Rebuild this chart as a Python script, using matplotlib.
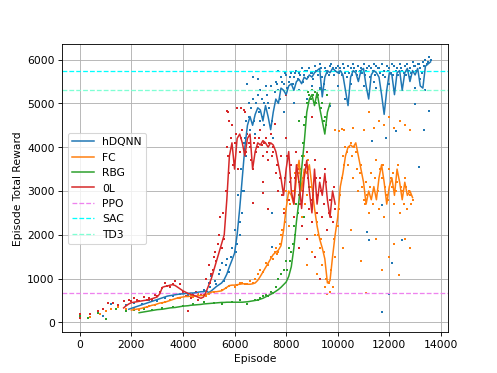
import numpy as np
import matplotlib
matplotlib.use("Agg")
import matplotlib.pyplot as plt

# ---------------- data ----------------
series_names = ["hDQNN", "FC", "RBG", "0L"]
series_colors = ["tab:blue", "tab:orange", "tab:green", "tab:red"]

step = 100
hdqnn_line_start = 1900
hdqnn_line = [300, 320, 340, 360, 380, 400, 420, 440, 460, 480, 500, 520, 540, 560, 580, 600,
              610, 620, 630, 640, 650, 650, 660, 660, 670, 670, 680, 690, 700, 700, 720,
              680, 720, 770, 820, 860, 900, 980, 1100, 1270, 1420, 1580, 2000, 2600, 3300, 4000,
              4500, 4700, 4500, 4750, 4900, 4850, 4600, 4950, 4700, 4400, 4800, 5100, 5000, 5350,
              5300, 5200, 5400, 5450, 5300, 5500, 5550, 5450, 5600, 5550, 5650, 5600, 5700, 5750,
              5800, 5150, 5600, 5750, 5700, 5800, 5750, 5700, 5750, 5650, 5300, 4950, 5600, 5750,
              5700, 5500, 5750, 5800, 5400, 5100, 5650, 5750, 5700, 5600, 5200, 4750, 5300, 5700,
              5650, 5200, 5700, 5750, 5300, 5700, 5800, 5500, 5750, 5650, 5800, 5400, 5350, 5850,
              5900, 5950]

fc_line_start = 2000
fc_line = [280, 290, 300, 310, 320, 340, 350, 370, 390, 400, 420, 440, 450, 460, 480, 500,
           520, 540, 560, 570, 580, 590, 590, 600, 600, 600, 610, 610, 620, 640, 660, 690, 700,
           700, 710, 720, 760, 800, 840, 850, 850, 860, 870, 880, 880, 870, 870, 880, 900, 960,
           1050, 1150, 1250, 1350, 1450, 1550, 1600, 1650, 1750, 2100, 2600, 3000, 2900, 2700,
           3300, 3700, 3000, 3500, 3400, 3600, 3100, 2600, 2200, 1900, 1700, 1450, 900, 950,
           1500, 2000, 2400, 3100, 3400, 3800, 4000, 4050, 4000, 4100, 3800, 3500, 3200, 2700,
           3000, 2800, 3100, 2800, 3300, 3600, 3200, 2700, 3100, 3300, 2900, 3500, 3200, 2800,
           3200, 2900, 3000, 2850]

rbg_line_start = 2300
rbg_line = [220, 230, 240, 250, 260, 270, 280, 290, 295, 300, 310, 320, 330, 335, 340, 350,
            360, 370, 375, 380, 390, 395, 400, 405, 410, 420, 425, 430, 435, 440, 445, 450, 455,
            455, 460, 460, 460, 460, 460, 460, 460, 465, 470, 480, 490, 500, 510, 530, 550, 580,
            610, 640, 670, 710, 750, 800, 860, 920, 1050, 1270, 1700, 2300, 2800, 3500, 4100,
            4800, 5100, 5200, 4950, 5250, 4900, 4600, 4300, 4800, 5000]

ol_line_start = 1700
ol_line = [330, 380, 420, 450, 460, 470, 480, 490, 500, 510, 520, 540, 560, 580, 650, 800,
           820, 830, 850, 860, 840, 800, 760, 720, 690, 660, 640, 620, 600, 570, 550, 580, 700,
           850, 1000, 1200, 1400, 1600, 1800, 2000, 2800, 3800, 4100, 3500, 4200, 4300, 4100,
           3800, 4200, 4300, 3500, 3900, 4100, 4050, 4150, 4100, 4000, 4100, 4050, 3900, 3600,
           3300, 2900, 3500, 3900, 3000, 2700, 3600, 3200, 2600, 3300, 3700, 3000, 2500, 3500,
           2700, 3200, 2900, 3400, 2800, 2400, 3000, 2700]

hdqnn_pts_x = [0, 0, 900, 1200, 1500, 1800, 2100, 2400, 2700, 3000, 3300, 3600, 3900, 4200, 4500,
               4800, 5000, 5100, 5300, 5400, 5500, 5600, 5700, 5800, 5900, 6000, 6100, 6150, 6250,
               6300, 6400, 6450, 6550, 6600, 6700, 6800, 6900, 7000, 7100, 7200, 7300, 7400, 7500,
               7600, 7700, 7800, 7900, 8000, 8100, 8200, 8300, 8400, 8500, 8600, 8700, 8800, 8900,
               9000, 9100, 9200, 9300, 9400, 9500, 9600, 9700, 9800, 9900, 10000, 10100, 10200,
               10300, 10400, 10500, 10600, 10700, 10800, 10900, 11000, 11100, 11200, 11300, 11400,
               11500, 11600, 11700, 11800, 11900, 12000, 12100, 12200, 12300, 12400, 12500, 12600,
               12700, 12800, 12900, 13000, 13100, 13200, 13300, 13400, 13500, 13600,
               7000, 8500, 9000, 9500, 10000, 10500, 11000, 11500, 12000, 12500, 13000, 13400,
               11150, 11200, 12110, 11730, 12000, 12500, 11720, 13160, 11880, 11340, 12260, 13550,
               13350, 13000, 9700, 10300, 8300, 7900, 7470, 7470, 6500, 6700, 6900, 7150, 7700,
               8800, 9300, 10800, 11400, 12800, 13200, 6200, 6350]
hdqnn_pts_y = [200, 150, 150, 420, 350, 400, 450, 430, 500, 480, 560, 600, 650, 620, 700,
               750, 900, 1050, 880, 1100, 1350, 950, 1450, 1150, 1700, 2100, 1800, 2900, 3500,
               2500, 4200, 4600, 5000, 4400, 5100, 4300, 5200, 5300, 4700, 5400, 5000, 5400, 4200,
               5500, 5300, 5600, 5450, 5650, 5500, 5700, 5600, 5750, 5700, 5800, 5650, 5750, 5800,
               5700, 5850, 5750, 5900, 5600, 5800, 5700, 5850, 5800, 5750, 5850, 5800, 5900,
               5700, 5850, 5800, 5900, 5750, 5850, 5800, 5900, 5750, 5850, 5800, 5900,
               5850, 5800, 5900, 5750, 5850, 5800, 5900, 5850, 5800, 5900, 5750, 5850,
               5900, 5800, 5950, 5850, 5900, 5800, 5950, 6000, 5950, 6000,
               4600, 5300, 5400, 5300, 5400, 5450, 5400, 5350, 5450, 5400, 5350, 5300,
               2070, 1880, 1360, 230, 640, 1880, 2680, 3540, 4220, 4150, 4380, 4830,
               4400, 4990, 4950, 5100, 5000, 4800, 1730, 2490, 5450, 5600, 5550, 5000, 5750,
               5100, 5350, 5550, 5500, 5600, 5550, 2300, 3000]
hdqnn_pts2_x = [7550, 7650, 7750, 7850, 7950, 8050, 8150, 8250, 8350, 8450, 8550, 8650, 8750,
                8850, 8950, 9050, 9150, 9250, 9350, 9450, 9550, 9650, 9750, 9850, 9950, 10050,
                10150, 10250, 10350, 10450, 10550, 10650, 10750, 10850, 10950, 11050, 11150,
                11250, 11350, 11450, 11550, 11650, 11750, 11850, 11950, 12050, 12150, 12250,
                12350, 12450, 12550, 12650, 12750, 12850, 12950, 13050, 13150, 13250, 13350,
                13450, 13550, 6350, 6450, 6550, 6650, 6750, 6850, 6950, 7050, 7150, 7250, 7350,
                7450, 5050, 5250, 5450, 5650, 5850, 6050, 6200, 6280]
hdqnn_pts2_y = [5250, 5450, 5100, 5500, 5700, 5350, 5600, 5450, 5700, 5550, 5650, 5500, 5750,
                5600, 5700, 5550, 5750, 5650, 5800, 5450, 5750, 5650, 5900, 5650, 5800, 5700,
                5650, 5800, 5600, 5700, 5650, 5800, 5650, 5750, 5700, 5650, 5800,
                5600, 5750, 5650, 5800, 5700, 5650, 5600, 5750, 5700, 5650, 5750,
                5650, 5800, 5700, 5650, 5750, 5700, 5850, 5750, 5900, 5700, 5850,
                5900, 6050, 4100, 3800, 4700, 4900, 4600, 5000, 4800, 5100, 4500, 5200, 4900,
                4600, 800, 950, 1200, 1300, 1500, 1600, 2000, 3000]

fc_pts_x = [0, 400, 400, 800, 1000, 1200, 1500, 1800, 2100, 2300, 2600, 2900, 3200, 3500, 3800,
            4100, 4400, 4700, 5000, 5200, 5500, 5800, 6000, 6200, 6400, 6600, 6800, 6900, 7000,
            7100, 7200, 7300, 7400, 7500, 7600, 7700, 7800, 7900, 8000, 8100, 8200, 8300, 8400,
            8500, 8600, 8700, 8800, 8900, 9000, 9100, 9200, 9300, 9400, 9500, 9600, 9700, 9800,
            9900, 10000, 10100, 10200, 10300, 10400, 10500, 10600, 10700, 10800, 10900, 11000,
            11100, 11200, 11300, 11400, 11500, 11600, 11700, 11800, 11900, 12000, 12100, 12200,
            12300, 12400, 12500, 12600, 12700, 12800, 12900,
            9900, 10050, 10150, 10250, 10600, 11000, 11200, 11400, 11600, 11800, 12000, 12200,
            12400, 12600, 12800,
            10200, 10500, 10900, 11100, 11500, 11700, 12000, 12200, 12380, 12600, 12800, 8800,
            9000, 9200]
fc_pts_y = [120, 200, 130, 180, 250, 300, 350, 300, 320, 280, 350, 400, 450, 500, 550,
            600, 580, 620, 650, 700, 750, 820, 800, 900, 870, 950, 1000, 1100, 1200,
            1150, 1350, 1300, 1500, 1450, 1700, 1600, 2000, 2600, 3000, 2200, 3300, 2800, 3900,
            3400, 2400, 3800, 2900, 3500, 2600, 2000, 2300, 1700, 1300, 800, 650, 700, 800,
            1500, 2200, 2900, 3800, 4000, 3600, 4100, 3300, 3900, 3000, 3600, 2800,
            3200, 2500, 3400, 3000, 3700, 2600, 3300, 2400, 2900, 3500, 3100, 2700,
            3200, 2500, 3000, 3300, 2600, 2900, 2800,
            4400, 4380, 4420, 4400, 4450, 4400, 4800, 4450, 4600, 4500, 4700, 4450,
            4600, 4500, 4400,
            1700, 2100, 1400, 680, 1900, 1200, 1500, 1800, 1090, 1900, 1700, 1300,
            1600, 1100]
fc_pts2_x = [7550, 7650, 7750, 7850, 7950, 8050, 8150, 8250, 8350, 8450, 8550, 8650, 8750,
             8850, 8950, 9050, 9150, 9250, 9350, 9450, 9550, 9650, 9750, 9850, 10050, 10150,
             10250, 10350, 10450, 10550, 10650, 10750, 10850, 10950, 11050, 11150, 11250,
             11350, 11450, 11550, 11650, 11750, 11850, 11950, 12050, 12150, 12250, 12350,
             12450, 12550, 12650, 12750, 12850, 5650, 6100, 6300, 6500, 6700, 4900, 4600, 4300,
             3900, 3300, 2700]
fc_pts2_y = [1600, 1550, 1800, 2100, 2300, 2800, 2700, 3000, 3400, 3600, 3200, 3300, 2700,
             3700, 3100, 2800, 2500, 2000, 1900, 1600, 1000, 900, 1200, 1900, 2600, 3300,
             3600, 3900, 4000, 3800, 4000, 3500, 3400, 3100, 2700, 2900, 3100,
             2700, 3300, 3000, 3500, 3600, 3100, 2800, 3300, 3400, 3000, 3600,
             3100, 2700, 3100, 3000, 2700, 780, 850, 900, 870, 900, 600, 640, 620,
             560, 470, 380]

rbg_pts_x = [0, 300, 700, 1000, 1400, 1800, 2100, 2500, 2800, 3200, 3600, 4000, 4400, 4800,
             5200, 5500, 5900, 6200, 6500, 6800, 7100, 7400, 7600, 7700, 7800, 7900, 8000, 8100,
             8200, 8300, 8400, 8500, 8600, 8700, 8800, 8900, 9000, 9100, 9200, 9300, 9400, 9500,
             9600, 8500, 8700, 8900,
             6900, 7000, 7200, 7300, 7500, 8050, 8150, 8250, 8350, 8450, 8550, 8650, 8750, 8850,
             8950, 9050, 9150, 9250, 9350, 9450, 9550]
rbg_pts_y = [150, 100, 220, 80, 300, 250, 280, 300, 280, 330, 350, 380, 420, 460,
             450, 430, 470, 500, 420, 520, 600, 700, 800, 1000, 1100, 1200, 1400, 1700,
             1600, 2200, 2700, 3200, 3800, 4500, 5000, 5200, 5300, 5250, 5150, 5300, 5000, 4700,
             5200, 4600, 2400, 3100,
             520, 560, 620, 600, 680, 1200, 1400, 1800, 2000, 2500, 3500, 4100, 4700, 5250,
             5100, 5200, 5000, 5200, 4900, 4600, 4500]

ol_pts_x = [0, 0, 400, 700, 900, 1100, 1300, 1500, 1700, 1900, 2100, 2300, 2500, 2700, 2900,
            3100, 3300, 3500, 3700, 3900, 4100, 4300, 4500, 4700, 4900, 5000, 5100, 5200, 5300,
            5400, 5500, 5550, 5600, 5650, 5700, 5750, 5800, 5900, 6000, 6100, 6200, 6300, 6400,
            6500, 6600, 6700, 6800, 6900, 7000, 7100, 7200, 7300, 7400, 7500, 7600, 7700, 7800,
            7900, 8000, 8100, 8200, 8300, 8400, 8500, 8600, 8700, 8800, 8900, 9000, 9100, 9200,
            9300, 9400, 9500, 9600, 9700, 9800, 9900,
            7300, 8000, 9000, 7500, 7100, 8800, 9100, 9300, 8500, 4200, 5690, 5800, 6250, 6350,
            7550, 6700, 7100]
ol_pts_y = [100, 180, 180, 250, 300, 450, 450, 400, 480, 520, 550, 480, 580, 550, 620,
            700, 900, 800, 950, 880, 600, 550, 700, 620, 1000, 1300, 1100, 1500, 1400,
            2000, 1700, 2500, 1900, 3000, 4000, 4800, 3400, 4500, 4100, 4900, 3900, 4400, 4800,
            4300, 4000, 3500, 4200, 4000, 4400, 3800, 4200, 3700, 4300, 3900, 3400, 3000, 3800,
            2500, 4200, 2800, 3600, 2400, 3900, 2900, 2200, 3400, 3900, 2600, 2300, 3700, 2500,
            3300, 2400, 3500, 2100, 2800, 2300, 2600,
            2600, 5200, 4700, 4000, 3200, 1900, 1500, 1000, 1700, 260, 4830, 4600, 4900, 4850,
            4540, 2720, 2950]
ol_pts2_x = [5750, 5850, 5950, 6050, 6150, 6250, 6450, 6550, 6650, 6750, 6850, 6950, 7050,
             7150, 7250, 7350, 7450, 7650, 7750, 7850, 7950, 8050, 8150, 8250, 8350, 8450,
             8550, 8650, 8750, 8850, 8950, 9050, 9150, 9250, 9350, 9450, 9550, 9650, 9750,
             9850, 3400, 3600, 3200, 2000, 2200, 2600, 2800, 3000, 4000, 4400, 4600, 4800,
             5050, 5150, 5250, 5350, 5450]
ol_pts2_y = [3800, 4200, 3600, 4300, 3500, 4200, 3900, 4100, 3700, 4100, 3900, 4200, 4050,
             4100, 3900, 4100, 3800, 3600, 3300, 2900, 3300, 3800, 3200, 2800, 3300, 3500,
             2700, 3000, 3600, 3300, 2800, 2900, 3300, 2900, 3000, 2700, 3200, 2500, 2400,
             3100, 820, 870, 780, 480, 500, 520, 520, 600, 700, 650, 500, 620,
             900, 1200, 1600, 1800, 2400]

baseline_names = ["PPO", "SAC", "TD3"]
baseline_values = [680, 5730, 5300]
baseline_colors = ["violet", "cyan", "aquamarine"]

# ---------------- plot ----------------
fig = plt.figure(figsize=(6.4, 4.8), dpi=77.8)
ax = fig.add_subplot(111)

lines = [(hdqnn_line_start, hdqnn_line), (fc_line_start, fc_line),
         (rbg_line_start, rbg_line), (ol_line_start, ol_line)]
points = [(hdqnn_pts_x + hdqnn_pts2_x, hdqnn_pts_y + hdqnn_pts2_y),
          (fc_pts_x + fc_pts2_x, fc_pts_y + fc_pts2_y),
          (rbg_pts_x, rbg_pts_y),
          (ol_pts_x + ol_pts2_x, ol_pts_y + ol_pts2_y)]

for name, color, (start, vals), (px, py) in zip(series_names, series_colors, lines, points):
    xs = start + step * np.arange(len(vals))
    ax.plot(xs, vals, color=color, lw=1.4, label=name, zorder=3)
    ax.scatter(px, py, s=4, color=color, marker="s", linewidths=0, zorder=2)

for name, val, color in zip(baseline_names, baseline_values, baseline_colors):
    ax.axhline(val, color=color, ls="--", lw=1.2, label=name, zorder=2.5)

ax.grid(True)
ax.set_axisbelow(True)
ax.set_xlabel("Episode")
ax.set_ylabel("Episode Total Reward")
ax.legend(loc="center left")

fig.savefig("out.png", dpi=77.8)
